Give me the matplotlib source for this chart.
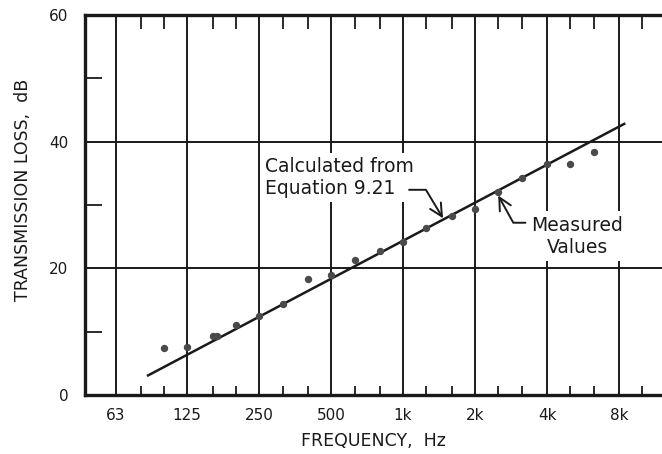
import matplotlib.pyplot as plt
from matplotlib.ticker import FixedLocator, NullFormatter, FixedFormatter

plt.rcParams["font.family"] = ["DejaVu Sans"]

# ------------------------------------------------------------------
# Data
# ------------------------------------------------------------------
octave_freqs  = [63, 125, 250, 500, 1000, 2000, 4000, 8000]
octave_labels = ["63", "125", "250", "500", "1k", "2k", "4k", "8k"]
third_freqs   = [80, 100, 160, 200, 315, 400, 630, 800, 1250, 1600,
                 2500, 3150, 5000, 6300, 10000]

meas_freq = [100, 125, 160, 166, 200, 250, 315, 400, 500, 630, 800,
             1000, 1250, 1600, 2000, 2500, 3150, 4000, 5000, 6300]
meas_tl   = [7.5, 7.6, 9.3, 9.3, 11.1, 12.5, 14.4, 18.3, 18.9, 21.3, 22.7,
             24.2, 26.3, 28.2, 29.3, 32.0, 34.2, 36.5, 36.5, 38.3]

calc_freq = [85, 8500]
calc_tl   = [3.0, 42.9]

ink = "#1a1a1a"

fig = plt.figure(figsize=(6.62, 4.54), dpi=100)
ax = fig.add_axes([85/662, 59/454, 577/662, 380/454])

ax.set_xscale("log")
ax.set_xlim(46.8, 12100)
ax.set_ylim(0, 60)

# ------------------------------------------------------------------
# Marks
# ------------------------------------------------------------------
ax.plot(calc_freq, calc_tl, color=ink, lw=1.8, zorder=4,
        solid_capstyle="butt")
ax.plot(meas_freq, meas_tl, "o", color="#4a4a4a", ms=4.3, zorder=5)

# ------------------------------------------------------------------
# Axes, grid, ticks
# ------------------------------------------------------------------
ax.xaxis.set_major_locator(FixedLocator(octave_freqs))
ax.xaxis.set_major_formatter(FixedFormatter(octave_labels))
ax.xaxis.set_minor_locator(FixedLocator(third_freqs))
ax.xaxis.set_minor_formatter(NullFormatter())
ax.yaxis.set_major_locator(FixedLocator([0, 20, 40, 60]))
ax.yaxis.set_minor_locator(FixedLocator([10, 30, 50]))

ax.grid(True, which="major", color=ink, lw=1.4, zorder=1)
ax.tick_params(which="major", length=0, labelsize=11, colors=ink)
ax.tick_params(axis="x", which="major", pad=9)
ax.tick_params(axis="y", which="major", pad=12)
ax.tick_params(axis="x", which="minor", direction="in", length=6.5,
               width=1.3, color=ink)
ax.tick_params(axis="y", which="minor", direction="in", length=12,
               width=1.3, color=ink)

top = ax.twiny()
top.set_xscale("log")
top.set_xlim(ax.get_xlim())
top.xaxis.set_major_locator(FixedLocator([]))
top.xaxis.set_minor_locator(FixedLocator(third_freqs))
top.xaxis.set_minor_formatter(NullFormatter())
top.tick_params(axis="x", which="minor", direction="in", length=10,
                width=1.3, color=ink)
for s in top.spines.values():
    s.set_visible(False)

for side in ("left", "top", "bottom"):
    ax.spines[side].set_linewidth(2.4)
    ax.spines[side].set_color(ink)
ax.spines["right"].set_visible(False)

ax.set_xlabel("FREQUENCY,  Hz", fontsize=12.5, color=ink, labelpad=7)
ax.set_ylabel("TRANSMISSION LOSS,  dB", fontsize=12.5, color=ink)
ax.yaxis.set_label_coords(-0.092, 0.54)

# ------------------------------------------------------------------
# Call-outs
# ------------------------------------------------------------------
box = dict(facecolor="white", edgecolor="none", pad=3)
ax.text(265, 34.3, "Calculated from\nEquation 9.21", fontsize=13.5,
        color=ink, ha="left", va="center", linespacing=1.2,
        bbox=box, zorder=3)
ax.annotate("", xy=(1470, 27.9), xytext=(1060, 32.4),
            arrowprops=dict(arrowstyle="->,head_length=0.9,head_width=0.45",
                            lw=1.4, color=ink, shrinkA=0, shrinkB=0,
                            connectionstyle="angle,angleA=0,angleB=121,rad=0"),
            zorder=6)

ax.text(5340, 25.1, "Measured\nValues", fontsize=13.5, color=ink,
        ha="center", va="center", multialignment="center",
        linespacing=1.2, bbox=box, zorder=3)
ax.annotate("", xy=(2500, 31.5), xytext=(3250, 27.2),
            arrowprops=dict(arrowstyle="->,head_length=0.9,head_width=0.45",
                            lw=1.4, color=ink, shrinkA=0, shrinkB=0,
                            connectionstyle="angle,angleA=180,angleB=119,rad=0"),
            zorder=6)

plt.savefig("out.png", dpi=100)
